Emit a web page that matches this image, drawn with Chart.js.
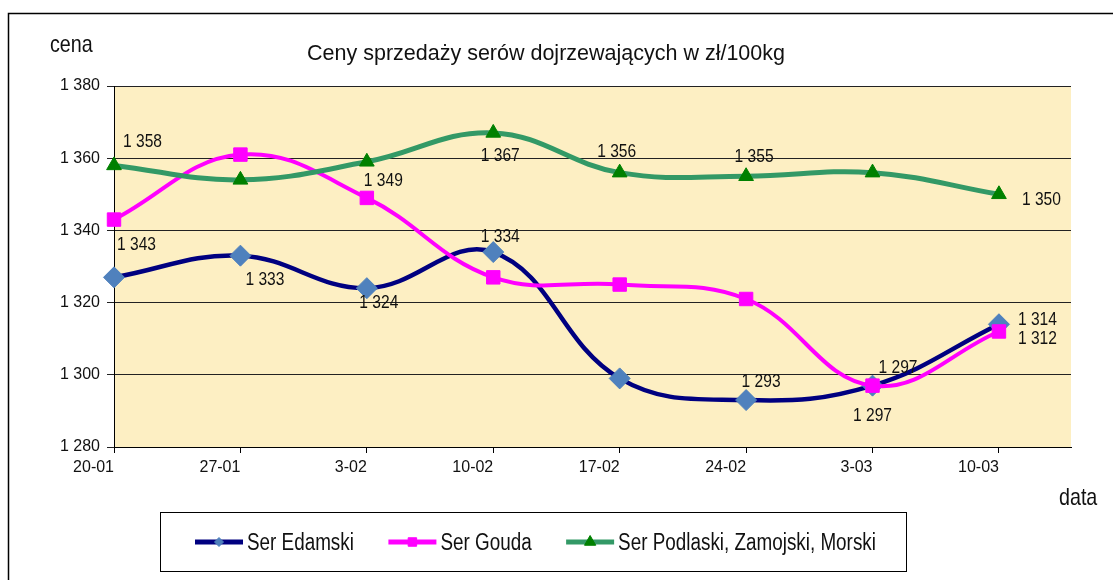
<!DOCTYPE html>
<html><head><meta charset="utf-8">
<script src="https://cdn.jsdelivr.net/npm/chart.js@4/dist/chart.umd.min.js"></script>
<style>html,body{margin:0;padding:0;background:#fff}#wrap{width:1113px;height:580px;position:relative}</style>
</head><body><div id="wrap"><canvas id="c" width="1113" height="580"></canvas></div>
<script>
const categories = ['20-01','27-01','3-02','10-02','17-02','24-02','3-03','10-03'];
const seriesNames = ['Ser Edamski','Ser Gouda','Ser Podlaski, Zamojski, Morski'];
const edamski = [1327,1333,1324,1334,1299,1293,1297,1314];
const gouda = [1343,1361,1349,1327,1325,1321,1297,1312];
const podlaski = [1358,1354,1359,1367,1356,1355,1356,1350];
const edamskiLabels = [null,1333,1324,1334,null,1293,1297,1314];
const goudaLabels = [1343,null,1349,null,null,null,1297,1312];
const podlaskiLabels = [1358,null,null,1367,1356,1355,null,1350];
const yTicks = [1280,1300,1320,1340,1360,1380];
const chartTitle = 'Ceny sprzedaży serów dojrzewających w zł/100kg';
const yTitle = 'cena';
const xTitle = 'data';

const REG = "'Liberation Sans',Arial,sans-serif";
const TXT = '#111';
const SQUEEZE = 0.82;
function fmt(v){ const t = Math.floor(v/1000); const r = String(v%1000).padStart(3,'0'); return t + ' ' + r; }
function narrowText(ctx, text, x, y, align, size, baseline){
  ctx.save();
  ctx.font = size + 'px ' + REG;
  ctx.textAlign = align; ctx.textBaseline = baseline || 'alphabetic';
  ctx.translate(x, y); ctx.scale(SQUEEZE, 1);
  ctx.fillText(text, 0, 0);
  const w = ctx.measureText(text).width * SQUEEZE;
  ctx.restore();
  return w;
}

// label placement: [dx, dy, align]
const labelPlacement = [
  [null,[5,24,'left'],[12,15,'center'],[7,-15,'center'],null,[15,-18,'center'],[0,30,'center'],[19,-4,'left']],
  [[3,25,'left'],null,[-3,-17,'left'],null,null,null,[6,-18,'left'],[19,7,'left']],
  [[9,-24,'left'],null,null,[7,23,'center'],[-3,-21,'center'],[8,-19,'center'],null,[23,5,'left']]
];
const valueLabels = [edamskiLabels, goudaLabels, podlaskiLabels];

const decorPlugin = {
  id: 'decor',
  beforeDraw(chart){
    const ctx = chart.ctx, a = chart.chartArea;
    ctx.save();
    ctx.fillStyle = '#fff';
    ctx.fillRect(0,0,chart.width,chart.height);
    ctx.strokeStyle = '#000'; ctx.lineWidth = 1.5;
    ctx.strokeRect(8.5, 13.5, 1200, 700);
    ctx.fillStyle = '#FDEFC3';
    ctx.fillRect(a.left, a.top, a.right - a.left, a.bottom - a.top);
    ctx.restore();
  },
  afterDraw(chart){
    const ctx = chart.ctx;
    ctx.save();
    ctx.fillStyle = TXT;
    ctx.textBaseline = 'alphabetic';
    ctx.font = '21.5px ' + REG;
    ctx.textAlign = 'center';
    ctx.fillText(chartTitle, 546, 60);
    narrowText(ctx, yTitle, 50, 52, 'left', 24);
    narrowText(ctx, xTitle, 1059, 505, 'left', 24);
    // legend
    ctx.strokeStyle = '#000'; ctx.lineWidth = 1;
    ctx.strokeRect(160.5, 512.5, 746, 59);
    let x = 195; const cy = 542;
    chart.data.datasets.forEach((ds, i) => {
      ctx.strokeStyle = ds.borderColor; ctx.lineWidth = 5; ctx.lineCap = 'butt';
      ctx.beginPath(); ctx.moveTo(x, cy); ctx.lineTo(x + 48, cy); ctx.stroke();
      ctx.fillStyle = ds.pointBackgroundColor; ctx.strokeStyle = ds.pointBorderColor; ctx.lineWidth = 1;
      Chart.helpers.drawPoint(ctx, {pointStyle: ds.pointStyle, rotation: 0, radius: ds.legendRadius, borderWidth: 1}, x + 24, cy);
      ctx.fillStyle = TXT;
      const w = narrowText(ctx, ds.label, x + 52, 550, 'left', 23);
      x = x + 52 + w + 34.5;
    });
    // data labels
    ctx.fillStyle = TXT;
    chart.data.datasets.forEach((ds, di) => {
      const meta = chart.getDatasetMeta(di);
      valueLabels[di].forEach((v, i) => {
        if (v == null) return;
        const p = meta.data[i]; const pl = labelPlacement[di][i];
        narrowText(ctx, fmt(v), p.x + pl[0], p.y + pl[1], pl[2], 19, 'middle');
      });
    });
    ctx.restore();
  }
};

const toPts = arr => arr.map((v, i) => ({x: i, y: v}));

new Chart(document.getElementById('c'), {
  type: 'line',
  data: {
    datasets: [
      {label: seriesNames[0], data: toPts(edamski), borderColor: '#000080', borderWidth: 4.5,
       pointStyle: 'rectRot', pointRadius: 10.5, pointBackgroundColor: '#4F81BD', pointBorderColor: '#4F81BD', pointBorderWidth: 1,
       legendRadius: 4.5, tension: 0.4, clip: false, order: 3},
      {label: seriesNames[1], data: toPts(gouda), borderColor: '#FF00FF', borderWidth: 4,
       pointStyle: 'rect', pointRadius: 9.5, pointBackgroundColor: '#FF00FF', pointBorderColor: '#FF00FF', pointBorderWidth: 1,
       legendRadius: 6, tension: 0.4, clip: false, order: 2},
      {label: seriesNames[2], data: toPts(podlaski), borderColor: '#339966', borderWidth: 5,
       pointStyle: 'triangle', pointRadius: 8.5, pointBackgroundColor: '#008000', pointBorderColor: '#008000', pointBorderWidth: 1,
       legendRadius: 6.5, tension: 0.4, clip: false, order: 1}
    ]
  },
  options: {
    responsive: false, animation: false, devicePixelRatio: 1,
    layout: {padding: {top: 86, right: 42, bottom: 103, left: 0}},
    plugins: {legend: {display: false}, tooltip: {enabled: false}, title: {display: false}},
    scales: {
      x: {
        type: 'linear', min: 0, max: 7.57,
        afterBuildTicks: s => { s.ticks = categories.map((_, i) => ({value: i})); },
        afterFit: s => { s.height = 30; },
        ticks: {align: 'end', padding: 5, color: TXT, font: {family: REG, size: 16}, maxRotation: 0, autoSkip: false,
                callback: v => categories[v]},
        grid: {drawOnChartArea: false, drawTicks: true, tickLength: 6, color: '#000', lineWidth: 1},
        border: {display: true, color: '#000', width: 1}
      },
      y: {
        min: 1280, max: 1380,
        afterBuildTicks: s => { s.ticks = yTicks.map(v => ({value: v})); },
        afterFit: s => { s.width = 114; },
        ticks: {padding: 7, color: TXT, font: {family: REG, size: 16}, callback: v => fmt(v)},
        grid: {drawOnChartArea: true, drawTicks: true, tickLength: 7, color: '#222', lineWidth: 1},
        border: {display: true, color: '#000', width: 1}
      }
    }
  },
  plugins: [decorPlugin]
});
</script></body></html>
